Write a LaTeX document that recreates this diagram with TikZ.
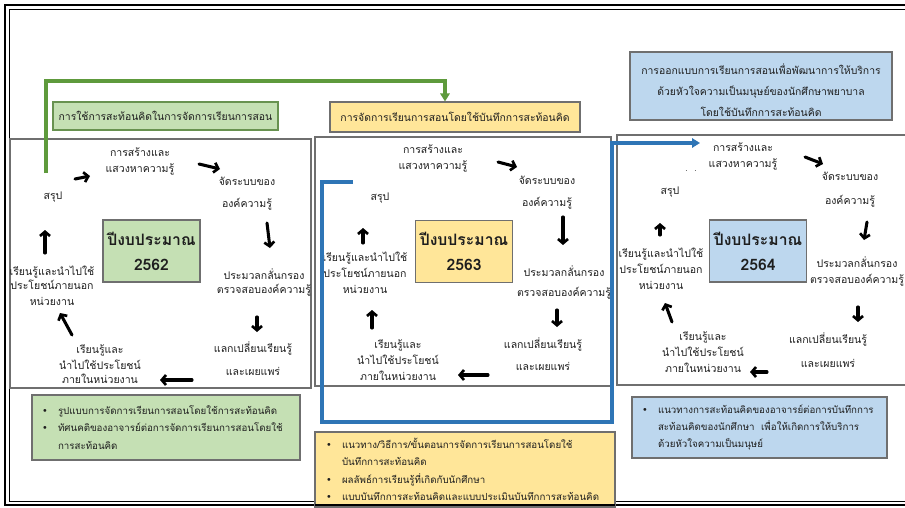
\documentclass[tikz,border=0pt]{standalone}
\usepackage{fontspec}
\setmainfont{Loma}[Script=Thai]
\newfontfamily\symfont{DejaVu Sans}
\usetikzlibrary{arrows.meta}

\definecolor{fillgreen}{HTML}{C5E0B4}
\definecolor{fillyellow}{HTML}{FFE699}
\definecolor{fillblue}{HTML}{BDD7EE}
\definecolor{linegreen}{HTML}{5E9A3C}
\definecolor{lineblue}{HTML}{2E75B6}
\definecolor{framegray}{HTML}{6F6F6F}
\definecolor{inkgray}{HTML}{1E1E1E}

\newcommand\bul{{\symfont\char"2022}}
\newcommand\itm{\makebox[12pt][l]{\bul}}
\newcommand\cnt{\hspace*{12pt}}

\tikzset{
  lbl/.style={align=center, inner sep=0pt, text=inkgray,
    font=\fontsize{7.9}{12}\selectfont},
  yearbox/.style={draw=framegray, line width=0.8pt, minimum width=97*0.75pt,
    minimum height=62*0.75pt, align=center, inner sep=0pt, text=inkgray,
    font=\fontsize{11.8}{18.75}\selectfont\bfseries},
  titlebox/.style={draw=framegray, line width=0.8pt, align=center, inner sep=0pt,
    text=inkgray, font=\fontsize{7.8}{15.5}\selectfont},
  listbox/.style={draw=framegray, line width=0.8pt, align=left, inner sep=0pt,
    text=inkgray, font=\fontsize{7.3}{13}\selectfont},
  panel/.style={draw=framegray, line width=0.8pt},
  cyc/.style={line width=2.3pt, black, line cap=round,
    -{Straight Barb[length=3.2pt, width=7.5pt, line width=2pt]}},
  link/.style={line width=2.4pt, -{Triangle[length=6pt, width=7pt]}},
}

\begin{document}
\begin{tikzpicture}[x=0.75pt, y=-0.75pt]
\useasboundingbox (0,0) rectangle (905,507);

% outer double frame (open on the right)
\draw[line width=1.6pt] (905,5) -- (5,5) -- (5,505) -- (905,505);
\draw[line width=0.6pt] (905,9) -- (9,9) -- (9,501) -- (905,501);

% three panels
\draw[panel] (10,139) rectangle (311,388);
\draw[panel] (315,137) rectangle (611,386);
\draw[panel] (905,135) -- (617,135) -- (617,385) -- (905,385);

% title boxes
\node[titlebox, fill=fillgreen, draw=linegreen!70!gray, minimum width=225*0.75pt,
  minimum height=28*0.75pt] (gtitle) at (165.5,116) {การใช้การสะท้อนคิดในการจัดการเรียนการสอน};
\node[titlebox, fill=fillyellow, minimum width=250*0.75pt, minimum height=30*0.75pt]
  (ytitle) at (455,117) {การจัดการเรียนการสอนโดยใช้บันทึกการสะท้อนคิด};
\node[titlebox, fill=fillblue, minimum width=262*0.75pt, minimum height=68*0.75pt]
  (btitle) at (761,86)
  {\raisebox{-4pt}[\height][\depth]{\begin{tabular}{@{}c@{}}
   การออกแบบการเรียนการสอนเพื่อพัฒนาการให้บริการ\\
   ด้วยหัวใจความเป็นมนุษย์ของนักศึกษาพยาบาล\\
   โดยใช้บันทึกการสะท้อนคิด\end{tabular}}};

% ---- panel 1 : 2562
\node[yearbox, fill=fillgreen] (y1) at (151.5,251) {ปีงบประมาณ\\2562};
\node[lbl] (p1create) at (140,161) {การสร้างและ\\แสวงหาความรู้};
\node[lbl] (p1org) at (247,194) {จัดระบบของ\\[4.5pt]องค์ความรู้};
\node[lbl] (p1screen) at (264,282.5) {ประมวลกลั่นกรอง\\[-1pt]ตรวจสอบองค์ความรู้};
\node[lbl] (p1share) at (253,358.5) {แลกเปลี่ยนเรียนรู้\\[5pt]และเผยแพร่};
\node[lbl] (p1inner) at (100,364) {เรียนรู้และ\\นำไปใช้ประโยชน์\\[-1pt]ภายในหน่วยงาน};
\node[lbl] (p1outer) at (52,286) {เรียนรู้และนำไปใช้\\[-1.5pt]ประโยชน์ภายนอก\\หน่วยงาน};
\node[lbl] (p1sum) at (53,197) {สรุป};
\draw[cyc] (75,179) -- (90,176);
\draw[cyc] (199,164) -- (220,169);
\draw[cyc] (267,223) -- (270,248);
\draw[cyc] (257,317) -- (257,332);
\draw[cyc] (192,380) -- (160,380);
\draw[cyc] (72,335) -- (60,313);
\draw[cyc] (45,253) -- (45,230);

% ---- panel 2 : 2563
\node[yearbox, fill=fillyellow] (y2) at (464,251.5) {ปีงบประมาณ\\2563};
\node[lbl] (p2create) at (433,158.5) {การสร้างและ\\แสวงหาความรู้};
\node[lbl] (p2org) at (547,192.5) {จัดระบบของ\\[4.5pt]องค์ความรู้};
\node[lbl] (p2screen) at (564,282) {ประมวลกลั่นกรอง\\[3pt]ตรวจสอบองค์ความรู้};
\node[lbl] (p2share) at (543,354) {แลกเปลี่ยนเรียนรู้\\[4.5pt]และเผยแพร่};
\node[lbl] (p2inner) at (398,360) {เรียนรู้และ\\นำไปใช้ประโยชน์\\ภายในหน่วยงาน};
\node[lbl] (p2outer) at (365,273) {เรียนรู้และนำไปใช้\\ประโยชน์ภายนอก\\หน่วยงาน};
\node[lbl] (p2sum) at (380,198) {สรุป};
\draw[cyc] (498,162) -- (517,167);
\draw[cyc] (563,217) -- (563,245);
\draw[cyc] (557,310) -- (557,327);
\draw[cyc] (488,375) -- (458,375);
\draw[cyc] (372,328) -- (372,310);
\draw[cyc] (363,243) -- (363,228);

% ---- panel 3 : 2564
\node[yearbox, fill=fillblue] (y3) at (758,251) {ปีงบประมาณ\\2564};
\node[lbl] (p3create) at (743,156) {การสร้างและ\\แสวงหาความรู้};
\node[lbl] (p3org) at (850,190) {จัดระบบของ\\[6pt]องค์ความรู้};
\node[lbl] (p3screen) at (857,271.5) {ประมวลกลั่นกรอง\\ตรวจสอบองค์ความรู้};
\node[lbl] (p3share) at (828,350.5) {แลกเปลี่ยนเรียนรู้\\[6pt]และเผยแพร่};
\node[lbl] (p3inner) at (703,352) {เรียนรู้และ\\นำไปใช้ประโยชน์\\ภายในหน่วยงาน};
\node[lbl] (p3outer) at (661,269) {เรียนรู้และนำไปใช้\\ประโยชน์ภายนอก\\หน่วยงาน};
\node[lbl] (p3sum) at (670,192) {สรุป};
\node[lbl, font=\fontsize{6}{6}\selectfont] (p3dots) at (691,171) {.\hspace{5pt}.};
\draw[cyc] (805,157) -- (823,164);
\draw[cyc] (867,222) -- (864,240);
\draw[cyc] (858,307) -- (858,322);
\draw[cyc] (767,372) -- (750,372);
\draw[cyc] (672,322) -- (665,303);
\draw[cyc] (660,235) -- (660,223);

% ---- links between the years
\coordinate (gstart) at (46,173);
\coordinate (gcorner) at (46,81);
\draw[link, linegreen] (gstart) -- (gcorner) -| ([xshift=-10*0.75pt]ytitle.north);

\coordinate (bstart) at (353,182);
\coordinate (bc1) at (322,182);
\coordinate (bc2) at (322,422);
\coordinate (bc3) at (612,422);
\coordinate (bc4) at (612,143);
\coordinate (bend) at (700,143);
\draw[link, lineblue, line width=2.3pt, line join=miter]
  (bstart) -- (bc1) -- (bc2) -- (bc3) -- (bc4) -- (bend);

% ---- outcome boxes
\node[listbox, fill=fillgreen, minimum width=268*0.75pt, minimum height=65*0.75pt,
  text width=248*0.75pt] (gout) at (166,427.5)
  {\itm รูปแบบการจัดการเรียนการสอนโดยใช้การสะท้อนคิด\\
   \itm ทัศนคติของอาจารย์ต่อการจัดการเรียนการสอนโดยใช้\\
   \cnt การสะท้อนคิด};
\node[listbox, fill=fillyellow, minimum width=300*0.75pt, minimum height=75*0.75pt,
  text width=278*0.75pt] (yout) at (465,469.5)
  {\itm แนวทาง/วิธีการ/ขั้นตอนการจัดการเรียนการสอนโดยใช้\\
   \cnt บันทึกการสะท้อนคิด\\
   \itm ผลลัพธ์การเรียนรู้ที่เกิดกับนักศึกษา\\
   \itm แบบบันทึกการสะท้อนคิดและแบบประเมินบันทึกการสะท้อนคิด};
\node[listbox, fill=fillblue, minimum width=255*0.75pt, minimum height=61*0.75pt,
  text width=235*0.75pt] (bout) at (759.5,427.5)
  {\itm แนวทางการสะท้อนคิดของอาจารย์ต่อการบันทึกการ\\
   \cnt สะท้อนคิดของนักศึกษา\ \ เพื่อให้เกิดการให้บริการ\\
   \cnt ด้วยหัวใจความเป็นมนุษย์};

% frame line drawn again across the yellow box
\draw[line width=1.6pt] (315,505) -- (615,505);
\end{tikzpicture}
\end{document}
